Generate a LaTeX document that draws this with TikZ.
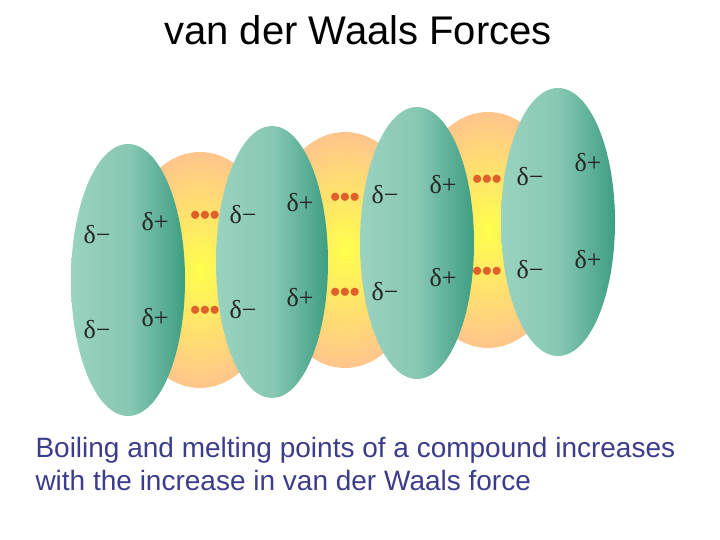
\documentclass[tikz,border=0pt]{standalone}
\usepackage{fontspec}
\setmainfont{Liberation Sans}
\newfontfamily\ser{Liberation Serif}
\definecolor{gA}{HTML}{9AD3C0}
\definecolor{gB}{HTML}{3E9E82}
\definecolor{tblue}{HTML}{3C3C8C}
\definecolor{dotc}{HTML}{E0602A}
\tikzset{
 mol/.style={left color=gA, right color=gB, middle color=gA!80!gB, draw=none},
 glow/.style={inner color=yellow!70, outer color=orange!45, draw=none},
 dl/.style={font=\ser\fontsize{26}{26}\selectfont, text=black!85},
 dots/.style={font=\fontsize{28}{28}\selectfont\bfseries, text=dotc},
}
\begin{document}
\begin{tikzpicture}[x=1pt,y=-1pt]
\useasboundingbox (0,0) rectangle (720,540);
\node (t) at (358,30) {\fontsize{40}{40}\selectfont van der Waals Forces};
\shade[glow] (200,270) ellipse (80 and 118);
\shade[glow] (345,250) ellipse (80 and 118);
\shade[glow] (488,230) ellipse (80 and 118);
\shade[mol] (128,280) ellipse (57 and 136);
\shade[mol] (272,262) ellipse (56 and 136);
\shade[mol] (417,243) ellipse (57 and 136);
\shade[mol] (558,222) ellipse (57 and 134);
\foreach \n/\x/\y/\s in {a/97/235/−,b/155/222/+,c/97/330/−,d/155/318/+,
 e/243/215/−,f/300/203/+,g/243/310/−,h/300/298/+,
 i/385/195/−,j/443/185/+,k/385/292/−,l/443/278/+,
 m/530/177/−,n/588/163/+,o/530/270/−,p/588/260/+}
 \node[dl] (\n) at (\x,\y) {δ\s};
\foreach \n/\x/\y in {q/205/218,r/205/313,s/345/200,u/345/295,v/487/182,w/487/274}
 \node[dots] (\n) at (\x,\y) {•••};
\node[anchor=west, text=tblue, font=\fontsize{28}{33}\selectfont, align=left] (cap) at (32,464)
 {Boiling and melting points of a compound increases\\with the increase in van der Waals force};
\end{tikzpicture}
\end{document}
